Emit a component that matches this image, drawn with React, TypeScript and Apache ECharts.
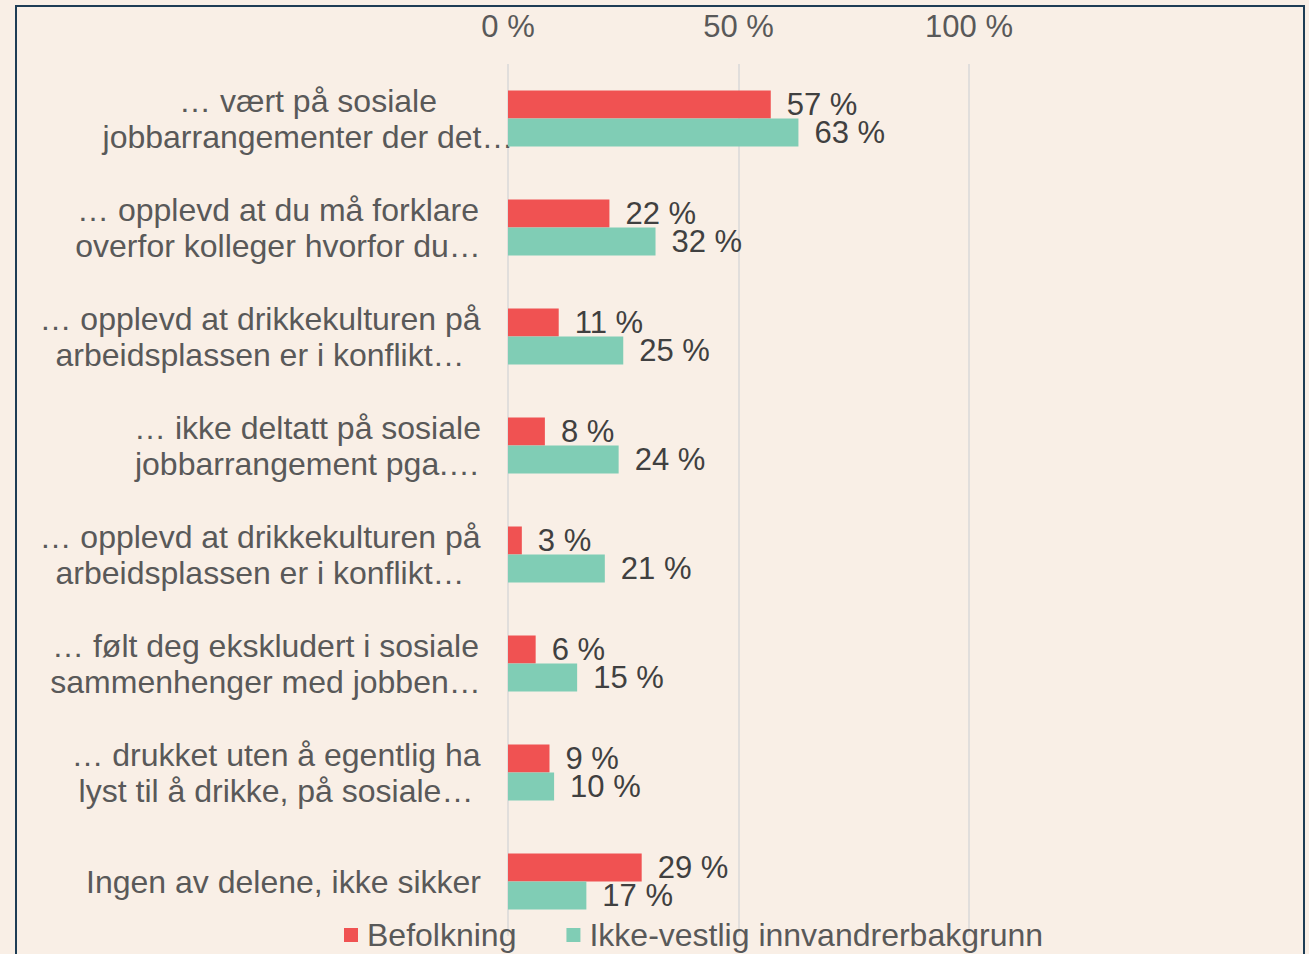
import React, { useEffect, useRef } from "react";
import * as echarts from "echarts";

const categories = [
  "… vært på sosiale\njobbarrangementer der det…",
  "… opplevd at du må forklare\noverfor kolleger hvorfor du…",
  "… opplevd at drikkekulturen på\narbeidsplassen er i konflikt…",
  "… ikke deltatt på sosiale\njobbarrangement pga.…",
  "… opplevd at drikkekulturen på\narbeidsplassen er i konflikt…",
  "… følt deg ekskludert i sosiale\nsammenhenger med jobben…",
  "… drukket uten å egentlig ha\nlyst til å drikke, på sosiale…",
  "Ingen av delene, ikke sikker",
];
const seriesNames = ["Befolkning", "Ikke-vestlig innvandrerbakgrunn"];
const befolkning = [57, 22, 11, 8, 3, 6, 9, 29];
const ikkeVestlig = [63, 32, 25, 24, 21, 15, 10, 17];
const xTicks = [0, 50, 100];

const FONT = '"Liberation Sans", Arial, Helvetica, sans-serif';
const CAT_FONT = 32;
const VAL_FONT = 31;
const BG = "#F9EFE6";
const TEXT = "#595959";
const LABEL_WIDTH_OVERRIDE: Record<number, number> = { 0: 346 };

export default function App() {
  const ref = useRef<HTMLDivElement>(null);
  useEffect(() => {
    document.body.style.background = BG;
    const chart = echarts.init(ref.current!, undefined, { renderer: "svg" });
    const canvas = document.createElement("canvas");
    const ctx = canvas.getContext("2d")!;
    ctx.font = `${CAT_FONT}px ${FONT}`;
    const rich: Record<string, any> = {};
    categories.forEach((c, i) => {
      const w = Math.max(...c.split("\n").map((l) => ctx.measureText(l).width));
      rich["c" + i] = {
        width: LABEL_WIDTH_OVERRIDE[i] ?? Math.ceil(w),
        align: "center",
        fontSize: CAT_FONT,
        lineHeight: 36,
        color: TEXT,
        fontFamily: FONT,
      };
    });
    const valueLabel = {
      show: true,
      position: "right",
      distance: 16,
      formatter: "{c} %",
      fontSize: VAL_FONT,
      color: "#404040",
      fontFamily: FONT,
    };
    chart.setOption({
      animation: false,
      backgroundColor: BG,
      textStyle: { fontFamily: FONT },
      grid: { left: 508, right: 340, top: 64, bottom: 18, containLabel: false },
      xAxis: {
        type: "value",
        position: "top",
        min: xTicks[0],
        max: xTicks[xTicks.length - 1],
        interval: xTicks[1] - xTicks[0],
        axisLine: { show: false },
        axisTick: { show: false },
        axisLabel: {
          formatter: "{value} %",
          fontSize: VAL_FONT,
          color: TEXT,
          margin: 22,
          fontFamily: FONT,
        },
        splitLine: { show: true, lineStyle: { color: "#D9D9D9", width: 1.5 } },
      },
      yAxis: {
        type: "category",
        inverse: true,
        data: categories,
        axisLine: { show: false },
        axisTick: { show: false },
        axisLabel: {
          margin: 27,
          align: "right",
          formatter: (v: string, idx: number) =>
            v.split("\n").map((l) => `{c${idx}|${l}}`).join("\n"),
          rich,
        },
      },
      legend: {
        top: 914,
        left: 339,
        itemWidth: 14,
        itemHeight: 14,
        itemGap: 50,
        icon: "rect",
        textStyle: { fontSize: 32, color: TEXT, fontFamily: FONT, padding: [0, 0, 0, 4] },
        data: seriesNames,
      },
      series: [
        {
          name: seriesNames[0],
          type: "bar",
          data: befolkning,
          barWidth: 28,
          barGap: "0%",
          itemStyle: { color: "#F05252" },
          label: valueLabel,
        },
        {
          name: seriesNames[1],
          type: "bar",
          data: ikkeVestlig,
          barWidth: 28,
          barGap: "0%",
          itemStyle: { color: "#80CDB5" },
          label: valueLabel,
        },
      ],
      graphic: [
        {
          type: "rect",
          silent: true,
          shape: { x: 16, y: 6, width: 1288, height: 1000 },
          style: { fill: "none", stroke: "#1E3D55", lineWidth: 2 },
          z: 100,
        },
      ],
    });
    return () => chart.dispose();
  }, []);
  return (
    <div
      ref={ref}
      style={{ position: "fixed", left: 0, top: 0, width: 1309, height: 954 }}
    />
  );
}
